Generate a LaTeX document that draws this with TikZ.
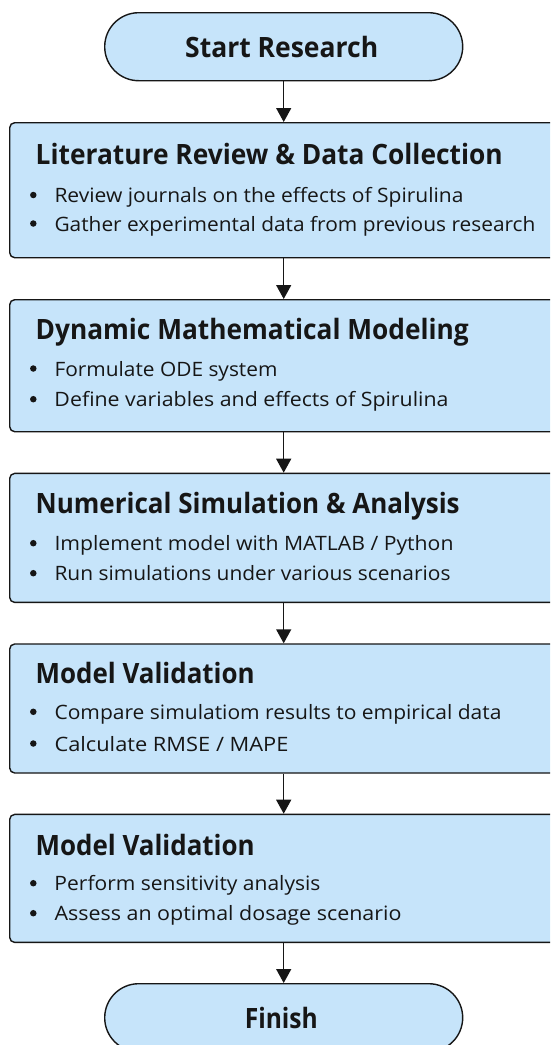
\documentclass[tikz,border=0pt]{standalone}
\usepackage{fontspec}
\setmainfont{Open Sans}
\usetikzlibrary{arrows.meta}
\definecolor{boxfill}{RGB}{198,228,250}
\definecolor{ink}{RGB}{22,22,22}
\newcommand\fitw[2]{\resizebox{#1}{\height}{#2}}
\begin{document}
\begin{tikzpicture}[x=1pt,y=-1pt,
  box/.style={draw=ink, line width=1.4pt, fill=boxfill, rounded corners=5pt, inner sep=0pt, anchor=north west, minimum width=591pt},
  term/.style={draw=ink, line width=1.4pt, fill=boxfill, rounded corners=34pt, inner sep=0pt, anchor=north west, minimum width=358pt, minimum height=68pt},
  ttl/.style={anchor=base west, inner sep=0pt, font=\bfseries\fontsize{28}{30}\selectfont, text=ink},
  itm/.style={anchor=base west, inner sep=0pt, font=\fontsize{19.8}{22}\selectfont, text=ink},
  bdot/.style={circle, fill=ink, inner sep=0pt, minimum size=6.5pt},
  arr/.style={draw=ink, line width=1.4pt, -{Triangle[width=15pt,length=14pt]}}
]
\useasboundingbox (0,0) rectangle (550,1045);
\clip (0,0) rectangle (550,1045);
\fill[white] (0,0) rectangle (550,1045);

% terminals
\node[term] (st) at (104,12) {};
\node[ttl] (stt) at (185,57.3) {\fitw{193pt}{Start Research}};
\node[term] (fin) at (104,983) {};
\node[ttl] (fint) at (244.6,1028) {\fitw{73pt}{Finish}};

% boxes
\node[box, minimum height=135pt] (b1) at (9,122) {};
\node[box, minimum height=132pt] (b2) at (9,299) {};
\node[box, minimum height=129pt] (b3) at (9,472.7) {};
\node[box, minimum height=129pt] (b4) at (9,643.3) {};
\node[box, minimum height=128pt] (b5) at (9,813.7) {};

% box 1
\node[ttl] (t1) at (35.5,164.5) {\fitw{467pt}{Literature Review \& Data Collection}};
\node[bdot] (d1a) at (33.3,195) {};
\node[itm] (i1a) at (54.3,202.5) {\fitw{409pt}{Review journals on the effects of Spirulina}};
\node[bdot] (d1b) at (33.3,223.5) {};
\node[itm] (i1b) at (54.3,231) {\fitw{481pt}{Gather experimental data from previous research}};

% box 2
\node[ttl] (t2) at (35.5,339.3) {\fitw{433pt}{Dynamic Mathematical Modeling}};
\node[bdot] (d2a) at (33.3,368.5) {};
\node[itm] (i2a) at (54.3,376) {\fitw{223pt}{Formulate ODE system}};
\node[bdot] (d2b) at (33.3,399.2) {};
\node[itm] (i2b) at (54.3,406.7) {\fitw{394pt}{Define variables and effects of Spirulina}};

% box 3
\node[ttl] (t3) at (35.5,513.3) {\fitw{424pt}{Numerical Simulation \& Analysis}};
\node[bdot] (d3a) at (33.3,543.2) {};
\node[itm] (i3a) at (54.3,550.7) {\fitw{399pt}{Implement model with MATLAB / Python}};
\node[bdot] (d3b) at (33.3,573.2) {};
\node[itm] (i3b) at (54.3,580.7) {\fitw{396pt}{Run simulations under various scenarios}};

% box 4
\node[ttl] (t4) at (35.5,683.3) {\fitw{219pt}{Model Validation}};
\node[bdot] (d4a) at (33.3,711.8) {};
\node[itm] (i4a) at (54.3,719.3) {\fitw{447pt}{Compare simulatiom results to empirical data}};
\node[bdot] (d4b) at (33.3,743.5) {};
\node[itm] (i4b) at (54.3,751) {\fitw{234pt}{Calculate RMSE / MAPE}};

% box 5
\node[ttl] (t5) at (35.5,855) {\fitw{219pt}{Model Validation}};
\node[bdot] (d5a) at (33.3,883.2) {};
\node[itm] (i5a) at (54.3,890.7) {\fitw{266pt}{Perform sensitivity analysis}};
\node[bdot] (d5b) at (33.3,913.2) {};
\node[itm] (i5b) at (54.3,920.7) {\fitw{347pt}{Assess an optimal dosage scenario}};

% arrows
\draw[arr] (st.south) -- (st.south |- b1.north);
\draw[arr] (b1.south -| st.south) -- (b2.north -| st.south);
\draw[arr] (b2.south -| st.south) -- (b3.north -| st.south);
\draw[arr] (b3.south -| st.south) -- (b4.north -| st.south);
\draw[arr] (b4.south -| st.south) -- (b5.north -| st.south);
\draw[arr] (b5.south -| st.south) -- (fin.north);
\end{tikzpicture}
\end{document}
